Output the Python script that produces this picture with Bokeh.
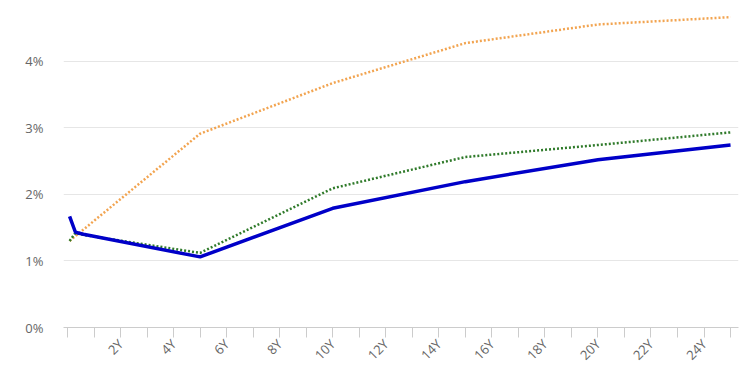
from bokeh.plotting import figure
from bokeh.models import FixedTicker, Range1d
from bokeh.embed import file_html
from bokeh.resources import INLINE

# Tenors in years and yields in percent
blue_x = [0.08, 0.3, 0.6, 5, 10, 15, 20, 25]
blue_y = [1.67, 1.43, 1.40, 1.06, 1.79, 2.19, 2.52, 2.74]

green_x = [0.08, 0.3, 0.6, 5, 10, 15, 20, 25]
green_y = [1.30, 1.42, 1.39, 1.12, 2.09, 2.56, 2.74, 2.93]

orange_x = [0.08, 5, 10, 15, 20, 25]
orange_y = [1.30, 2.91, 3.67, 4.27, 4.55, 4.66]

x_ticks = list(range(0, 26))
x_labels = {t: (f"{t}Y" if t % 2 == 0 and t > 0 else "") for t in x_ticks}
y_ticks = [0, 1, 2, 3, 4]
y_labels = {t: f"{t}%" for t in y_ticks}

p = figure(width=745, height=372, output_backend="svg", toolbar_location=None,
           x_range=Range1d(-0.15, 25.3), y_range=Range1d(0, 4.91),
           min_border_left=63, min_border_right=7, min_border_top=0,
           min_border_bottom=43)
p.outline_line_color = None
p.background_fill_color = "white"

p.line(orange_x, orange_y, line_color="#F2A450", line_width=2.5, line_dash="2 2")
p.line(green_x, green_y, line_color="#2F7A2A", line_width=2.5, line_dash="2 2")
p.line(blue_x, blue_y, line_color="#0000C8", line_width=3.5)

p.xgrid.grid_line_color = None
p.ygrid.grid_line_color = "#e6e6e6"
p.ygrid.grid_line_width = 1
p.ygrid.ticker = FixedTicker(ticks=[1, 2, 3, 4])

p.xaxis.ticker = FixedTicker(ticks=x_ticks)
p.xaxis.major_label_overrides = x_labels
p.xaxis.major_label_orientation = 0.785
p.xaxis.axis_line_color = "#cccccc"
p.xaxis.major_tick_line_color = "#cccccc"
p.xaxis.major_tick_out = 10
p.xaxis.major_tick_in = 0
p.xaxis.minor_tick_line_color = None
p.xaxis.major_label_text_color = "#666666"
p.xaxis.major_label_text_font = "Open Sans"
p.xaxis.major_label_text_font_size = "13px"
p.xaxis.major_label_standoff = 4

p.yaxis.ticker = FixedTicker(ticks=y_ticks)
p.yaxis.major_label_overrides = y_labels
p.yaxis.axis_line_color = None
p.yaxis.major_tick_line_color = None
p.yaxis.minor_tick_line_color = None
p.yaxis.major_tick_out = 0
p.yaxis.major_label_standoff = 20
p.yaxis.major_label_text_color = "#666666"
p.yaxis.major_label_text_font = "Open Sans"
p.yaxis.major_label_text_font_size = "13px"

open("out.html", "w").write(file_html(p, INLINE))
